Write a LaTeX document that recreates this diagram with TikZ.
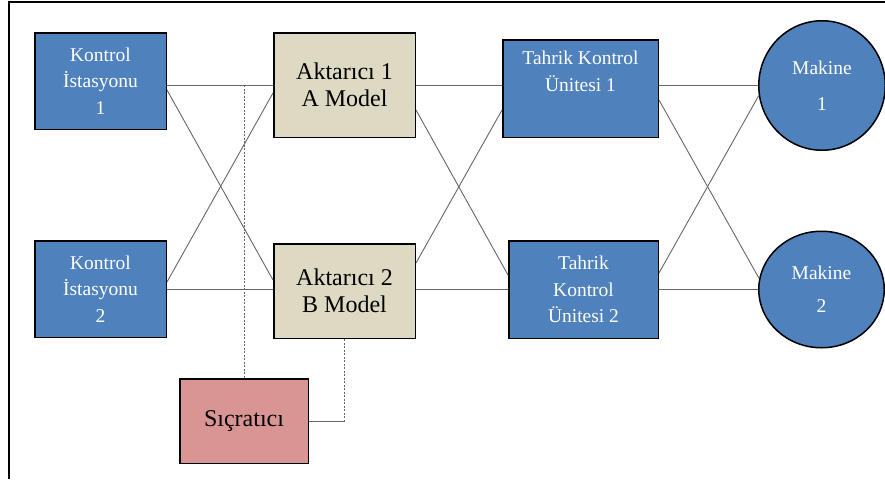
\documentclass[tikz,border=0pt]{standalone}
\usepackage{fontspec}
\setmainfont{Liberation Serif}
\usetikzlibrary{positioning,shapes}

\definecolor{ofismavi}{RGB}{79,129,189}
\definecolor{bej}{RGB}{221,217,195}
\definecolor{pembe}{RGB}{217,149,148}

\begin{document}
\begin{tikzpicture} [line width=0.9pt,
    kutu/.style={draw=black, line width=1.5pt, inner sep=0pt, align=center,
      font=\fontsize{19.5}{26.5}\selectfont},
    mavi/.style={kutu, fill=ofismavi, text=white},
    aktarici/.style={kutu, fill=bej, minimum width=141.5pt,
      font=\fontsize{24}{27.5}\selectfont},
    makine/.style={mavi, ellipse}]

  \useasboundingbox (0,0) rectangle (885pt,-479pt);
  \draw[line width=2pt] (8.5pt,-479pt) -- (8.5pt,-2pt) -- (885pt,-2pt);

  \node[mavi] (k1) [minimum width=131.5pt, minimum height=96.5pt] at (100.5pt,-81pt) {Kontrol\\İstasyonu\\1};
  \node[mavi] (k2) [below=110pt of k1, minimum width=131.5pt, minimum height=96.5pt] {Kontrol\\İstasyonu\\2};
  \node[aktarici] (a1) [right=106pt of k1, yshift=-4pt, minimum height=104.5pt] {Aktarıcı 1\\A Model};
  \node[aktarici] (a2) [below=105pt of a1, minimum height=94.5pt] {Aktarıcı 2\\B Model};
  \node[mavi] (t1) [right=86pt of a1, yshift=-3.5pt, minimum width=155.5pt, minimum height=97.5pt] {Tahrik Kontrol\\Ünitesi 1\\\strut};
  \node[mavi] (t2) [right=92pt of a2, yshift=1.5pt, minimum width=149.5pt, minimum height=97.5pt] {Tahrik\\Kontrol\\Ünitesi 2};
  \node[makine] (m1) [right=99pt of t1, yshift=3pt, minimum width=126.5pt, minimum height=129.5pt] {Makine\\[9.5pt]1};
  \node[makine] (m2) [right=99pt of t2, minimum width=125.5pt, minimum height=116.5pt] {Makine\\[6.5pt]2};
  \node[kutu] (s) [below=39pt of a2, xshift=-100.5pt, fill=pembe, minimum width=128.5pt, minimum height=84.5pt,
    font=\fontsize{24}{27.5}\selectfont] {Sıçratıcı};

  \path[every edge/.style={draw=black!60}]
    (k1.east |- a1.west) edge (a1.west)
    ([yshift=-9pt]k1.east) edge ([yshift=11pt]a2.west)
    ([yshift=7pt]k2.east) edge ([yshift=-8pt]a1.west)
    (k2.east) edge (k2.east -| a2.west)
    (a1.east) edge (a1.east -| t1.west)
    ([yshift=-25pt]a1.east) edge ([yshift=14.5pt]t2.west)
    ([yshift=28pt]a2.east) edge ([yshift=-21.5pt]t1.west)
    (t2.west -| a2.east) edge (t2.west)
    (m1.west -| t1.east) edge (m1.west)
    ([yshift=-11.5pt]t1.east) edge (m2.170)
    ([yshift=16.5pt]t2.east) edge (m1.189)
    (t2.east) edge (t2.east -| m2.west);

  % Sıçratıcı baglantilari
  \coordinate (tap) at (s.north |- a1.west);
  \coordinate (kose) at (a2.south |- s.east);
  \path[every edge/.style={draw=black!60, dash pattern=on 2pt off 1.5pt}]
    (tap) edge (s.north)
    (a2.south) edge (kose);
  \path[every edge/.style={draw=black!60}]
    (kose) edge (s.east);

\end{tikzpicture}
\end{document}
